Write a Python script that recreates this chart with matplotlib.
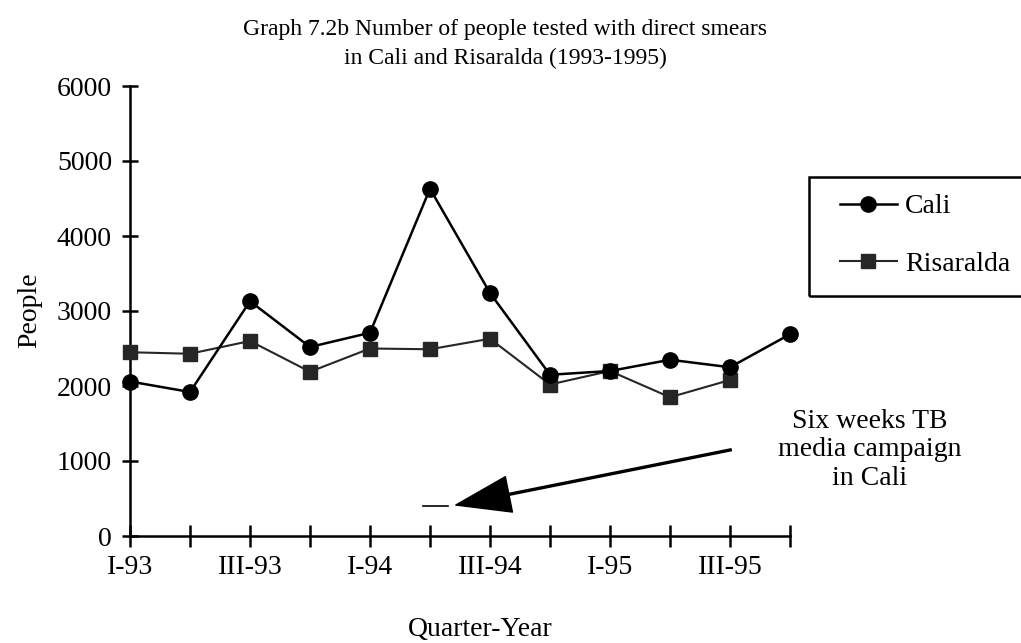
"""
Graph 7.2b: people tested with direct smears, Cali vs Risaralda
"""
import matplotlib

matplotlib.use("Agg")
import matplotlib.pyplot as plt  # noqa:E402
from matplotlib.patches import Rectangle  # noqa:E402

# quarters 1993-1995
quarters = ["I-93", "II-93", "III-93", "IV-93", "I-94", "II-94",
            "III-94", "IV-94", "I-95", "II-95", "III-95", "IV-95"]
shown_labels = ["I-93", "", "III-93", "", "I-94", "", "III-94", "",
                "I-95", "", "III-95", ""]

cali = [2060, 1920, 3130, 2520, 2710, 4630, 3240, 2150, 2200, 2350, 2250, 2690]
risaralda = [2450, 2430, 2600, 2190, 2500, 2490, 2630, 2020, 2200, 1850, 2080]

y_ticks = [0, 1000, 2000, 3000, 4000, 5000, 6000]

W, H = 1021, 643


def main():
    plt.rcParams["font.family"] = ["Liberation Serif", "DejaVu Serif"]
    plt.rcParams["font.size"] = 20

    fig = plt.figure(figsize=(W / 100, H / 100), dpi=100)
    ax = fig.add_axes([130 / W, 1 - 536 / H, 660 / W, 450 / H])

    x = list(range(len(quarters)))
    ax.plot(x, cali, color="black", lw=1.8, marker="o", ms=11,
            label="Cali", clip_on=False, zorder=4)
    ax.plot(x[:len(risaralda)], risaralda, color="#262626", lw=1.5,
            marker="s", ms=10, label="Risaralda", clip_on=False, zorder=3)

    ax.set_xlim(0, len(quarters) - 1)
    ax.set_ylim(0, 6000)
    ax.set_xticks(x)
    ax.set_xticklabels(shown_labels)
    ax.set_yticks(y_ticks)

    for side in ["top", "right"]:
        ax.spines[side].set_visible(False)
    for side in ["left", "bottom"]:
        ax.spines[side].set_linewidth(1.8)

    ax.tick_params(axis="x", direction="inout", length=16, width=1.8, pad=6)
    ax.tick_params(axis="y", direction="inout", length=12, width=1.8, pad=7)

    ax.set_ylabel("People")
    ax.yaxis.set_label_coords(-88 / 660, (536 - 310) / 450)
    fig.text(480 / W, 1 - 630 / H, "Quarter-Year", ha="center",
             va="center", fontsize=20)

    fig.text(505 / W, 1 - 29 / H,
             "Graph 7.2b Number of people tested with direct smears",
             ha="center", va="center", fontsize=17)
    fig.text(505 / W, 1 - 58 / H,
             "in Cali and Risaralda (1993-1995)",
             ha="center", va="center", fontsize=17)

    # legend with a hand-drawn frame running off the right edge
    fig.patches.append(Rectangle((809 / W, 1 - 296 / H), 230 / W, 119 / H,
                                 transform=fig.transFigure, fill=False,
                                 edgecolor="black", lw=1.8))
    ax.legend(loc="upper left", bbox_to_anchor=(840 / W, 1 - 194 / H),
              bbox_transform=fig.transFigure, borderaxespad=0, borderpad=0,
              frameon=False, handlelength=2.05, handletextpad=0.28,
              labelspacing=1.15)

    # campaign annotation
    ax.annotate("", xy=(5.43, 413), xytext=(10.02, 1150),
                arrowprops=dict(width=1.4, headwidth=26, headlength=39,
                                facecolor="black", edgecolor="black"))
    ax.plot([4.88, 5.30], [400, 400], color="black", lw=1.2)
    fig.text(870 / W, 1 - 450 / H,
             "Six weeks TB\nmedia campaign\nin Cali",
             ha="center", va="center", fontsize=20, linespacing=1.2)

    fig.savefig("out.png", dpi=100)
    plt.close(fig)


if __name__ == "__main__":
    main()
